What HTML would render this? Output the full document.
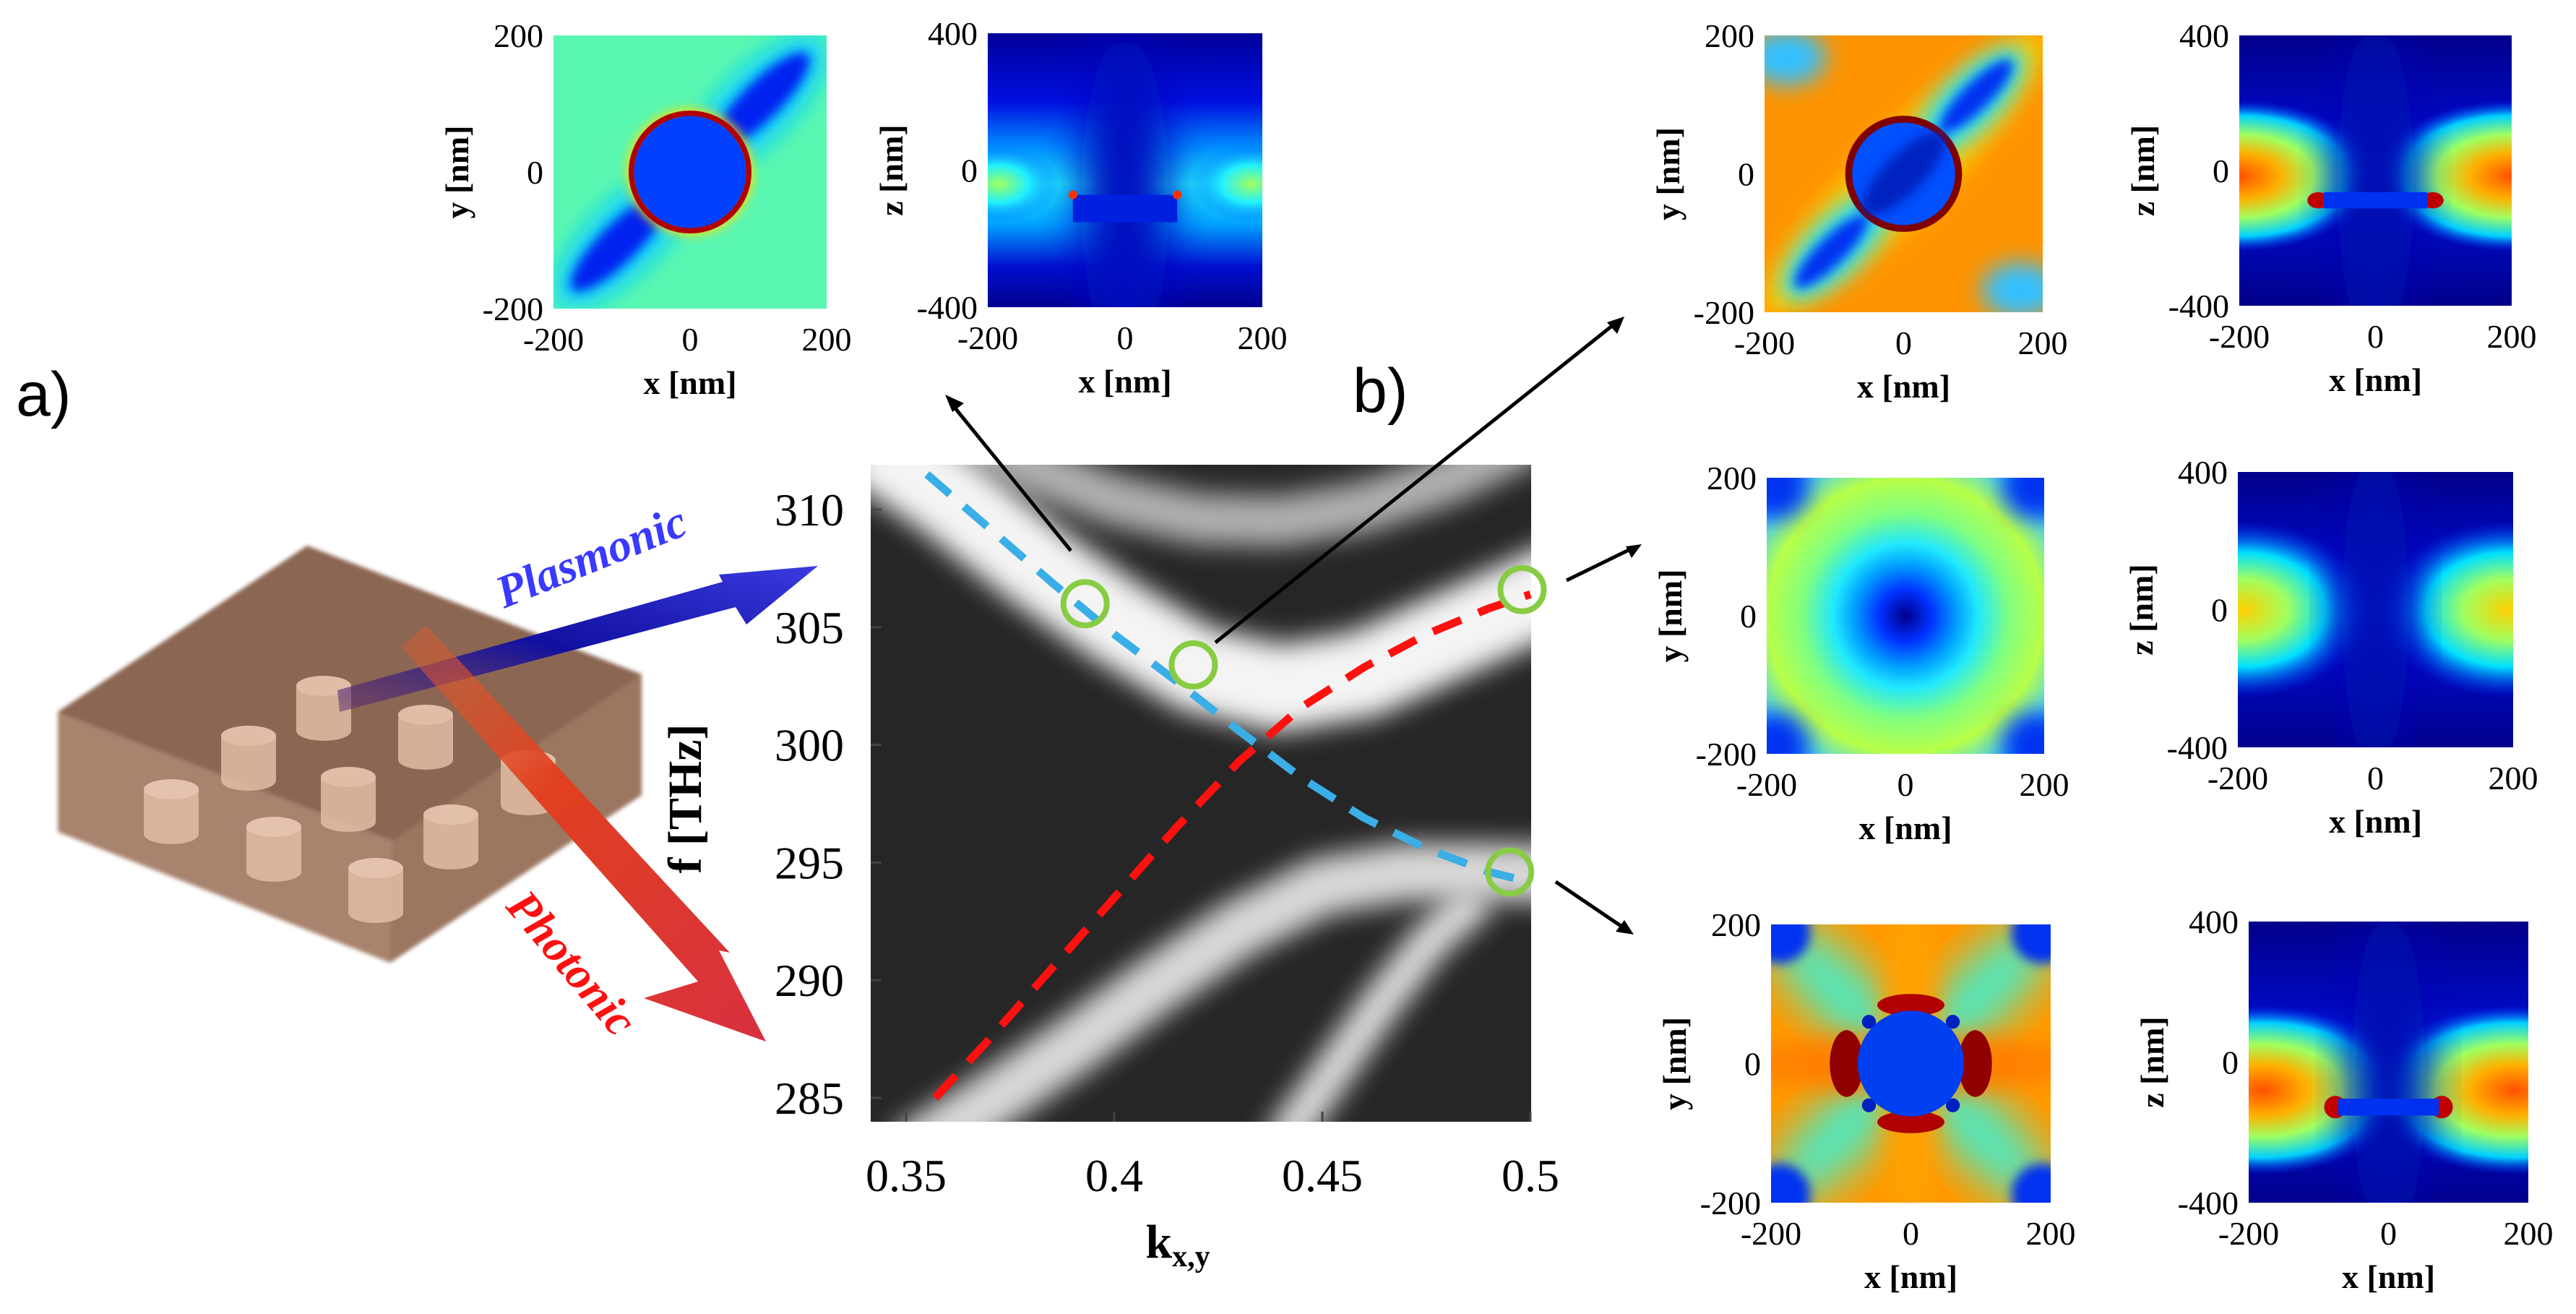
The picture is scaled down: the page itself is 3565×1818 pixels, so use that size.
<!DOCTYPE html>
<html><head><meta charset="utf-8"><style>
html,body{margin:0;padding:0;background:#fff;}
svg{display:block;}
text{font-family:"Liberation Serif",serif;}
</style></head><body>
<svg id="fig" width="3565" height="1818" viewBox="0 0 3565 1818" xmlns="http://www.w3.org/2000/svg">
<defs>
<filter id="b2" x="-50%" y="-50%" width="200%" height="200%"><feGaussianBlur stdDeviation="2"/></filter>
<filter id="b4" x="-50%" y="-50%" width="200%" height="200%"><feGaussianBlur stdDeviation="4"/></filter>
<filter id="b8" x="-50%" y="-50%" width="200%" height="200%"><feGaussianBlur stdDeviation="8"/></filter>
<filter id="bb" filterUnits="userSpaceOnUse" x="1000" y="400" width="1400" height="1400"><feGaussianBlur stdDeviation="18"/></filter>
<filter id="box" x="-10%" y="-10%" width="120%" height="120%"><feGaussianBlur stdDeviation="3"/></filter>
<clipPath id="mainclip"><rect x="1205" y="643" width="914" height="909"/></clipPath>
<linearGradient id="xzbg" x1="0" y1="0" x2="0" y2="1">
<stop offset="0" stop-color="#00009a"/><stop offset="0.25" stop-color="#0010e0"/><stop offset="0.42" stop-color="#0090ff"/><stop offset="0.55" stop-color="#20f0ff"/><stop offset="0.7" stop-color="#00a0ff"/><stop offset="0.85" stop-color="#0010d0"/><stop offset="1" stop-color="#000090"/></linearGradient>
<linearGradient id="xzdark" x1="0" y1="0" x2="0" y2="1">
<stop offset="0" stop-color="#00008a"/><stop offset="0.3" stop-color="#0008c0"/><stop offset="0.5" stop-color="#0030f0"/><stop offset="0.7" stop-color="#0008c0"/><stop offset="1" stop-color="#00008a"/></linearGradient>
<radialGradient id="r2a" cx="0.5" cy="0.5" r="0.62">
<stop offset="0" stop-color="#00008a"/><stop offset="0.15" stop-color="#0030ff"/><stop offset="0.3" stop-color="#00a0ff"/><stop offset="0.42" stop-color="#20e8ff"/><stop offset="0.6" stop-color="#80ff80"/><stop offset="0.8" stop-color="#b8ff48"/><stop offset="1" stop-color="#40d0ff"/></radialGradient>
<radialGradient id="lobeY" cx="0.5" cy="0.5" r="0.5">
<stop offset="0" stop-color="#ffd000"/><stop offset="0.35" stop-color="#a0ff60"/><stop offset="0.65" stop-color="#00e0ff"/><stop offset="1" stop-color="#0040ff" stop-opacity="0"/></radialGradient>
<radialGradient id="lobeO" cx="0.5" cy="0.5" r="0.5">
<stop offset="0" stop-color="#ff5000"/><stop offset="0.3" stop-color="#ffb000"/><stop offset="0.55" stop-color="#a0ff60"/><stop offset="0.8" stop-color="#00d0ff"/><stop offset="1" stop-color="#0040ff" stop-opacity="0"/></radialGradient>
<radialGradient id="lobeG" cx="0.5" cy="0.5" r="0.5">
<stop offset="0" stop-color="#a0ff60"/><stop offset="0.5" stop-color="#20f0ff"/><stop offset="1" stop-color="#0060ff" stop-opacity="0"/></radialGradient>
<linearGradient id="blueArr" x1="0" y1="1" x2="1" y2="0">
<stop offset="0" stop-color="#5a2a6a" stop-opacity="0.5"/><stop offset="0.45" stop-color="#1010a0"/><stop offset="1" stop-color="#3a3ae0"/></linearGradient>
<linearGradient id="redArr" x1="0" y1="0" x2="1" y2="1">
<stop offset="0" stop-color="#e06030" stop-opacity="0.4"/><stop offset="0.4" stop-color="#e04020"/><stop offset="1" stop-color="#d83040"/></linearGradient>
</defs>

<text x="22" y="575" font-size="86" style="font-family:'Liberation Sans',sans-serif">a)</text>
<text x="1872" y="570" font-size="86" style="font-family:'Liberation Sans',sans-serif">b)</text>

<g filter="url(#box)">
<polygon points="425,755 80,985 80,1151 540,1332 888,1100 888,933" fill="#a07a62" opacity="0.9"/>
<polygon points="425,755 80,985 543,1163 888,933" fill="#8a6450" opacity="0.95"/>
<polygon points="80,985 543,1163 540,1332 80,1151" fill="#a88470" opacity="0.9"/>
<polygon points="543,1163 888,933 888,1100 540,1332" fill="#9a7460" opacity="0.9"/>
</g>
<g id="cyl"></g>
<polygon points="467,955 1000,805 995,795 1132,783 1033,864 1018,840 470,985" fill="url(#blueArr)"/>
<polygon points="590,865 1010,1318 995,1315 1060,1441 891,1381 966,1358 555,895" fill="url(#redArr)"/>
<text transform="translate(826,790) rotate(-22)" text-anchor="middle" font-size="64" font-weight="bold" font-style="italic" fill="#3a3aff">Plasmonic</text>
<text transform="translate(775,1346) rotate(50)" text-anchor="middle" font-size="64" font-weight="bold" font-style="italic" fill="#ff1010">Photonic</text>

<g id="main">
<rect x="1205" y="643" width="914" height="909" fill="#262626"/>
<g id="bands" clip-path="url(#mainclip)"></g>
<g id="curves"></g>
<g id="axes"></g>
</g>
<text transform="translate(970,1105) rotate(-90)" text-anchor="middle" font-size="66" font-weight="bold">f [THz]</text>
<text x="1630" y="1740" font-size="66" font-weight="bold" text-anchor="middle">k<tspan font-size="42" dy="12">x,y</tspan></text>

<g stroke="#000" stroke-width="5" fill="#000">
<line x1="1482" y1="762" x2="1318" y2="560"/><polygon points="1308,546 1334,558 1318,570" stroke="none"/>
<line x1="1682" y1="889" x2="2232" y2="450"/><polygon points="2248,438 2238,462 2224,446" stroke="none"/>
<line x1="2168" y1="803" x2="2256" y2="760"/><polygon points="2272,753 2258,772 2250,756" stroke="none"/>
<line x1="2153" y1="1220" x2="2246" y2="1283"/><polygon points="2261,1293 2236,1289 2248,1273" stroke="none"/>
</g>

<g id="insets"></g>
</svg>
<script>
// ===== main chart data =====
const kTicks = [0.35, 0.4, 0.45, 0.5];
const kTickLabels = ["0.35", "0.4", "0.45", "0.5"];
const fTicks = [310, 305, 300, 295, 290, 285];
const fTickLabels = ["310", "305", "300", "295", "290", "285"];
const plasmonK = [0.355, 0.37, 0.385, 0.40, 0.415, 0.43, 0.445, 0.46, 0.475, 0.49, 0.497];
const plasmonF = [311.5, 309.2, 306.9, 304.7, 302.7, 300.6, 298.6, 296.9, 295.6, 294.6, 294.3];
const photonK = [0.357, 0.37, 0.385, 0.40, 0.415, 0.43, 0.445, 0.46, 0.475, 0.49, 0.5];
const photonF = [285.0, 287.5, 290.5, 293.5, 296.5, 299.3, 301.6, 303.3, 304.7, 305.8, 306.4];
const markerK = [0.393, 0.419, 0.498, 0.495];
const markerF = [306.0, 303.4, 306.6, 294.6];
const bandAK = [0.34, 0.36, 0.38, 0.40, 0.42, 0.44, 0.46, 0.48, 0.50, 0.51];
const bandAF = [313.0, 310.6, 307.8, 305.3, 303.2, 302.4, 303.0, 304.6, 306.2, 307.0];
const bandBK = [0.36, 0.38, 0.40, 0.42, 0.44, 0.46, 0.48, 0.50];
const bandBF = [314.0, 311.8, 310.4, 309.6, 309.5, 310.1, 311.3, 313.0];
const bandCK = [0.35, 0.37, 0.39, 0.41, 0.43, 0.45, 0.47, 0.49, 0.51];
const bandCF = [282.5, 284.8, 287.2, 289.8, 292.2, 294.0, 294.6, 294.6, 294.5];
const bandDK = [0.44, 0.452, 0.464, 0.476, 0.488];
const bandDF = [283.0, 286.0, 289.0, 291.7, 293.6];

const NS = "http://www.w3.org/2000/svg";
function X(k){ return 1254 + (k - 0.35) * 5760; }
function Y(f){ return 705 + (310 - f) * 32.56; }
function mk(tag, attrs, parent){ const e = document.createElementNS(NS, tag); for (const a in attrs) e.setAttribute(a, attrs[a]); parent.appendChild(e); return e; }
function pathD(ks, fs){ return ks.map((k,i)=>(i?"L":"M")+X(k).toFixed(1)+","+Y(fs[i]).toFixed(1)).join(" "); }

const bands = document.getElementById('bands');
function band(ks, fs, w, col, name){
  const p = mk('path', {d: pathD(ks, fs), fill:'none', stroke: col, 'stroke-width': w, 'stroke-linejoin':'round', filter:'url(#bb)'}, bands);
  
  
}
band(bandBK, bandBF, 70, '#b0b0b0', 'band-upper-arc');
band(bandAK, bandAF, 120, '#f4f4f4', 'band-upper');
band(bandCK, bandCF, 80, '#d8d8d8', 'band-lower');
band(bandDK, bandDF, 55, '#dcdcdc', 'band-lower-steep');

const curves = document.getElementById('curves');
const pl = mk('path', {d: pathD(plasmonK, plasmonF), fill:'none', stroke:'#3aaee6', 'stroke-width':11, 'stroke-dasharray':'42 26'}, curves);


const ph = mk('path', {d: pathD(photonK, photonF), fill:'none', stroke:'#ff1010', 'stroke-width':11, 'stroke-dasharray':'42 26'}, curves);


markerK.forEach((k,i)=>{
  const c = mk('circle', {cx: X(k), cy: Y(markerF[i]), r: 30, fill:'none', stroke:'#88cc44', 'stroke-width':8}, curves);
  
  
});

const axes = document.getElementById('axes');
fTicks.forEach((f,i)=>{
  const t = mk('line', {x1:1205, x2:1220, y1:Y(f), y2:Y(f), stroke:'#444', 'stroke-width':3}, axes);
  
  
  const l = mk('text', {x:1168, y:Y(f)+22, 'text-anchor':'end', 'font-size':64}, axes);
  l.textContent = fTickLabels[i];
  
  
});
kTicks.forEach((k,i)=>{
  const t = mk('line', {x1:X(k), x2:X(k), y1:1552, y2:1538, stroke:'#444', 'stroke-width':3}, axes);
  
  
  const l = mk('text', {x:X(k), y:1648, 'text-anchor':'middle', 'font-size':64}, axes);
  l.textContent = kTickLabels[i];
  
  
});

// ===== nanodisks =====
const cylCx = [448, 589, 344, 482, 731, 237, 379, 624, 520];
const cylCy = [979, 1019, 1048, 1105, 1082, 1122, 1174, 1157, 1231];
const cylG = document.getElementById('cyl');
cylCx.forEach((x,i)=>{
  const y = cylCy[i];
  const g = mk('g', {opacity: 0.85}, cylG);
  
  
  mk('rect', {x:x-38, y:y-30, width:76, height:62, fill:'#e3bca4'}, g);
  mk('ellipse', {cx:x, cy:y+32, rx:38, ry:14, fill:'#e3bca4'}, g);
  mk('ellipse', {cx:x, cy:y-30, rx:38, ry:14, fill:'#f0cdb8'}, g);
});

// ===== insets =====
const insets = [
  {name:'inset-plasmonic-xy', x:766, y:49, w:378, h:378, type:'xy', art:'tl1'},
  {name:'inset-plasmonic-xz', x:1367, y:46, w:380, h:379, type:'xz', art:'tl2'},
  {name:'inset-upper-xy', x:2442, y:49, w:385, h:383, type:'xy', art:'r1a'},
  {name:'inset-upper-xz', x:3099, y:49, w:377, h:374, type:'xz', art:'r1b'},
  {name:'inset-photonic-xy', x:2445, y:661, w:384, h:382, type:'xy', art:'r2a'},
  {name:'inset-photonic-xz', x:3097, y:653, w:381, h:381, type:'xz', art:'r2b'},
  {name:'inset-lower-xy', x:2451, y:1279, w:387, h:385, type:'xy', art:'r3a'},
  {name:'inset-lower-xz', x:3112, y:1275, w:387, h:389, type:'xz', art:'r3b'}
];
const art = {
 tl1: `<rect width="100" height="100" fill="#78ff88"/>
  <rect width="100" height="100" fill="#20e8ff" opacity="0.35"/>
  <ellipse cx="74" cy="26" rx="34" ry="13" transform="rotate(-45 74 26)" fill="#10d0ff" filter="url(#b4)"/>
  <ellipse cx="26" cy="74" rx="34" ry="13" transform="rotate(-45 26 74)" fill="#10d0ff" filter="url(#b4)"/>
  <ellipse cx="76" cy="24" rx="24" ry="7" transform="rotate(-45 76 24)" fill="#0020f0" filter="url(#b2)"/>
  <ellipse cx="24" cy="76" rx="24" ry="7" transform="rotate(-45 24 76)" fill="#0020f0" filter="url(#b2)"/>
  <ellipse cx="50" cy="50" rx="23" ry="23" fill="#ffe000" filter="url(#b2)"/>
  <ellipse cx="50" cy="50" rx="21.5" ry="21.5" fill="none" stroke="#b00000" stroke-width="2"/>
  <circle cx="50" cy="50" r="20.5" fill="#0040ff"/>`,
 tl2: `<rect width="100" height="100" fill="url(#xzbg)"/>
  <ellipse cx="4" cy="55" rx="22" ry="14" fill="url(#lobeG)"/><ellipse cx="96" cy="55" rx="22" ry="14" fill="url(#lobeG)"/>
  <ellipse cx="50" cy="60" rx="16" ry="60" fill="#0010c0" filter="url(#b8)"/>
  <rect x="31" y="59" width="38" height="10" fill="#0020e0"/>
  <circle cx="31" cy="59" r="1.6" fill="#ff3000"/><circle cx="69" cy="59" r="1.6" fill="#ff3000"/>`,
 r1a: `<rect width="100" height="100" fill="#ff9400"/>
  <ellipse cx="50" cy="50" rx="70" ry="14" transform="rotate(-45 50 50)" fill="#ffd000" filter="url(#b4)"/>
  <ellipse cx="74" cy="24" rx="26" ry="10" transform="rotate(-45 74 24)" fill="#20e0ff" filter="url(#b4)"/>
  <ellipse cx="26" cy="76" rx="26" ry="10" transform="rotate(-45 26 76)" fill="#20e0ff" filter="url(#b4)"/>
  <ellipse cx="76" cy="22" rx="18" ry="5" transform="rotate(-45 76 22)" fill="#0030f0" filter="url(#b2)"/>
  <ellipse cx="24" cy="78" rx="18" ry="5" transform="rotate(-45 24 78)" fill="#0030f0" filter="url(#b2)"/>
  <ellipse cx="8" cy="8" rx="14" ry="10" fill="#30c0ff" filter="url(#b4)"/>
  <ellipse cx="92" cy="92" rx="14" ry="10" fill="#30c0ff" filter="url(#b4)"/>
  <circle cx="50" cy="50" r="21" fill="#800000"/>
  <circle cx="50" cy="50" r="18.5" fill="#0050ff"/>
  <ellipse cx="50" cy="50" rx="20" ry="7" transform="rotate(-45 50 50)" fill="#0020c0" filter="url(#b2)"/>`,
 r1b: `<rect width="100" height="100" fill="url(#xzdark)"/>
  <ellipse cx="0" cy="52" rx="50" ry="28" fill="url(#lobeO)"/><ellipse cx="100" cy="52" rx="50" ry="28" fill="url(#lobeO)"/>
  <ellipse cx="50" cy="55" rx="14" ry="60" fill="#0010b0" filter="url(#b8)"/>
  <ellipse cx="29" cy="61" rx="4" ry="3" fill="#c00000"/><ellipse cx="71" cy="61" rx="4" ry="3" fill="#c00000"/>
  <rect x="31" y="58" width="38" height="6" fill="#0030f0"/>`,
 r2a: `<rect width="100" height="100" fill="url(#r2a)"/>
  <ellipse cx="3" cy="3" rx="12" ry="12" fill="#0030f0" filter="url(#b4)"/><ellipse cx="97" cy="3" rx="12" ry="12" fill="#0030f0" filter="url(#b4)"/>
  <ellipse cx="3" cy="97" rx="12" ry="12" fill="#0030f0" filter="url(#b4)"/><ellipse cx="97" cy="97" rx="12" ry="12" fill="#0030f0" filter="url(#b4)"/>`,
 r2b: `<rect width="100" height="100" fill="url(#xzdark)"/>
  <ellipse cx="2" cy="50" rx="46" ry="32" fill="url(#lobeY)"/><ellipse cx="98" cy="50" rx="46" ry="32" fill="url(#lobeY)"/>
  <ellipse cx="50" cy="50" rx="12" ry="60" fill="#0010b0" filter="url(#b8)"/>`,
 r3a: `<rect width="100" height="100" fill="#ff9a00"/>
  <ellipse cx="24" cy="24" rx="32" ry="11" transform="rotate(45 24 24)" fill="#40f0d0" filter="url(#b8)"/>
  <ellipse cx="76" cy="76" rx="32" ry="11" transform="rotate(45 76 76)" fill="#40f0d0" filter="url(#b8)"/>
  <ellipse cx="76" cy="24" rx="32" ry="11" transform="rotate(-45 76 24)" fill="#40f0d0" filter="url(#b8)"/>
  <ellipse cx="24" cy="76" rx="32" ry="11" transform="rotate(-45 24 76)" fill="#40f0d0" filter="url(#b8)"/>
  <ellipse cx="50" cy="50" rx="60" ry="10" fill="#ff8000" filter="url(#b4)"/>
  <ellipse cx="50" cy="50" rx="10" ry="60" fill="#ffa000" filter="url(#b4)"/>
  <ellipse cx="3" cy="3" rx="11" ry="11" fill="#0030f0" filter="url(#b2)"/><ellipse cx="97" cy="3" rx="11" ry="11" fill="#0030f0" filter="url(#b2)"/>
  <ellipse cx="3" cy="97" rx="11" ry="11" fill="#0030f0" filter="url(#b2)"/><ellipse cx="97" cy="97" rx="11" ry="11" fill="#0030f0" filter="url(#b2)"/>
  <ellipse cx="27" cy="50" rx="6" ry="12" fill="#900000"/><ellipse cx="73" cy="50" rx="6" ry="12" fill="#900000"/>
  <ellipse cx="50" cy="29" rx="12" ry="4" fill="#b00000"/><ellipse cx="50" cy="71" rx="12" ry="4" fill="#b00000"/>
  <circle cx="35" cy="35" r="2.5" fill="#0020c0"/><circle cx="65" cy="35" r="2.5" fill="#0020c0"/><circle cx="35" cy="65" r="2.5" fill="#0020c0"/><circle cx="65" cy="65" r="2.5" fill="#0020c0"/>
  <circle cx="50" cy="50" r="19" fill="#0040f0"/>`,
 r3b: `<rect width="100" height="100" fill="url(#xzdark)"/>
  <ellipse cx="5" cy="60" rx="52" ry="30" fill="url(#lobeO)"/><ellipse cx="95" cy="60" rx="52" ry="30" fill="url(#lobeO)"/>
  <ellipse cx="50" cy="55" rx="13" ry="60" fill="#0010b0" filter="url(#b8)"/>
  <ellipse cx="31" cy="66" rx="4" ry="4" fill="#c00000"/><ellipse cx="69" cy="66" rx="4" ry="4" fill="#c00000"/>
  <rect x="32" y="63" width="36" height="6" fill="#0030f0"/>`
};
const insG = document.getElementById('insets');
const parser = new DOMParser();
insets.forEach(o=>{
  const g = mk('g', {}, insG);
  
  
  const sv = mk('svg', {x:o.x, y:o.y, width:o.w, height:o.h, viewBox:'0 0 100 100', preserveAspectRatio:'none', overflow:'hidden'}, g);
  
  
  const doc = parser.parseFromString('<svg xmlns="http://www.w3.org/2000/svg">' + art[o.art] + '</svg>', 'image/svg+xml');
  Array.from(doc.documentElement.childNodes).forEach(n=>{ sv.appendChild(document.importNode(n, true)); });
  const fs = 46;
  const yl = o.type === 'xy' ? ['200','0','-200'] : ['400','0','-400'];
  [0, 0.5, 1].forEach((f,i)=>{
    const t = mk('text', {x:o.x-14, y:o.y + f*o.h + 16, 'text-anchor':'end', 'font-size':fs}, g);
    t.textContent = yl[i];
    
    
  });
  ['-200','0','200'].forEach((s,i)=>{
    const t = mk('text', {x:o.x + i*0.5*o.w, y:o.y + o.h + 58, 'text-anchor':'middle', 'font-size':fs}, g);
    t.textContent = s;
    
    
  });
  const xt = mk('text', {x:o.x + o.w/2, y:o.y + o.h + 118, 'text-anchor':'middle', 'font-size':46, 'font-weight':'bold'}, g);
  xt.textContent = 'x [nm]';
  
  
  const yt = mk('text', {transform:`translate(${o.x-118},${o.y + o.h/2}) rotate(-90)`, 'text-anchor':'middle', 'font-size':46, 'font-weight':'bold'}, g);
  yt.textContent = o.type === 'xy' ? 'y [nm]' : 'z [nm]';
  
  
});
</script>
</body></html>
